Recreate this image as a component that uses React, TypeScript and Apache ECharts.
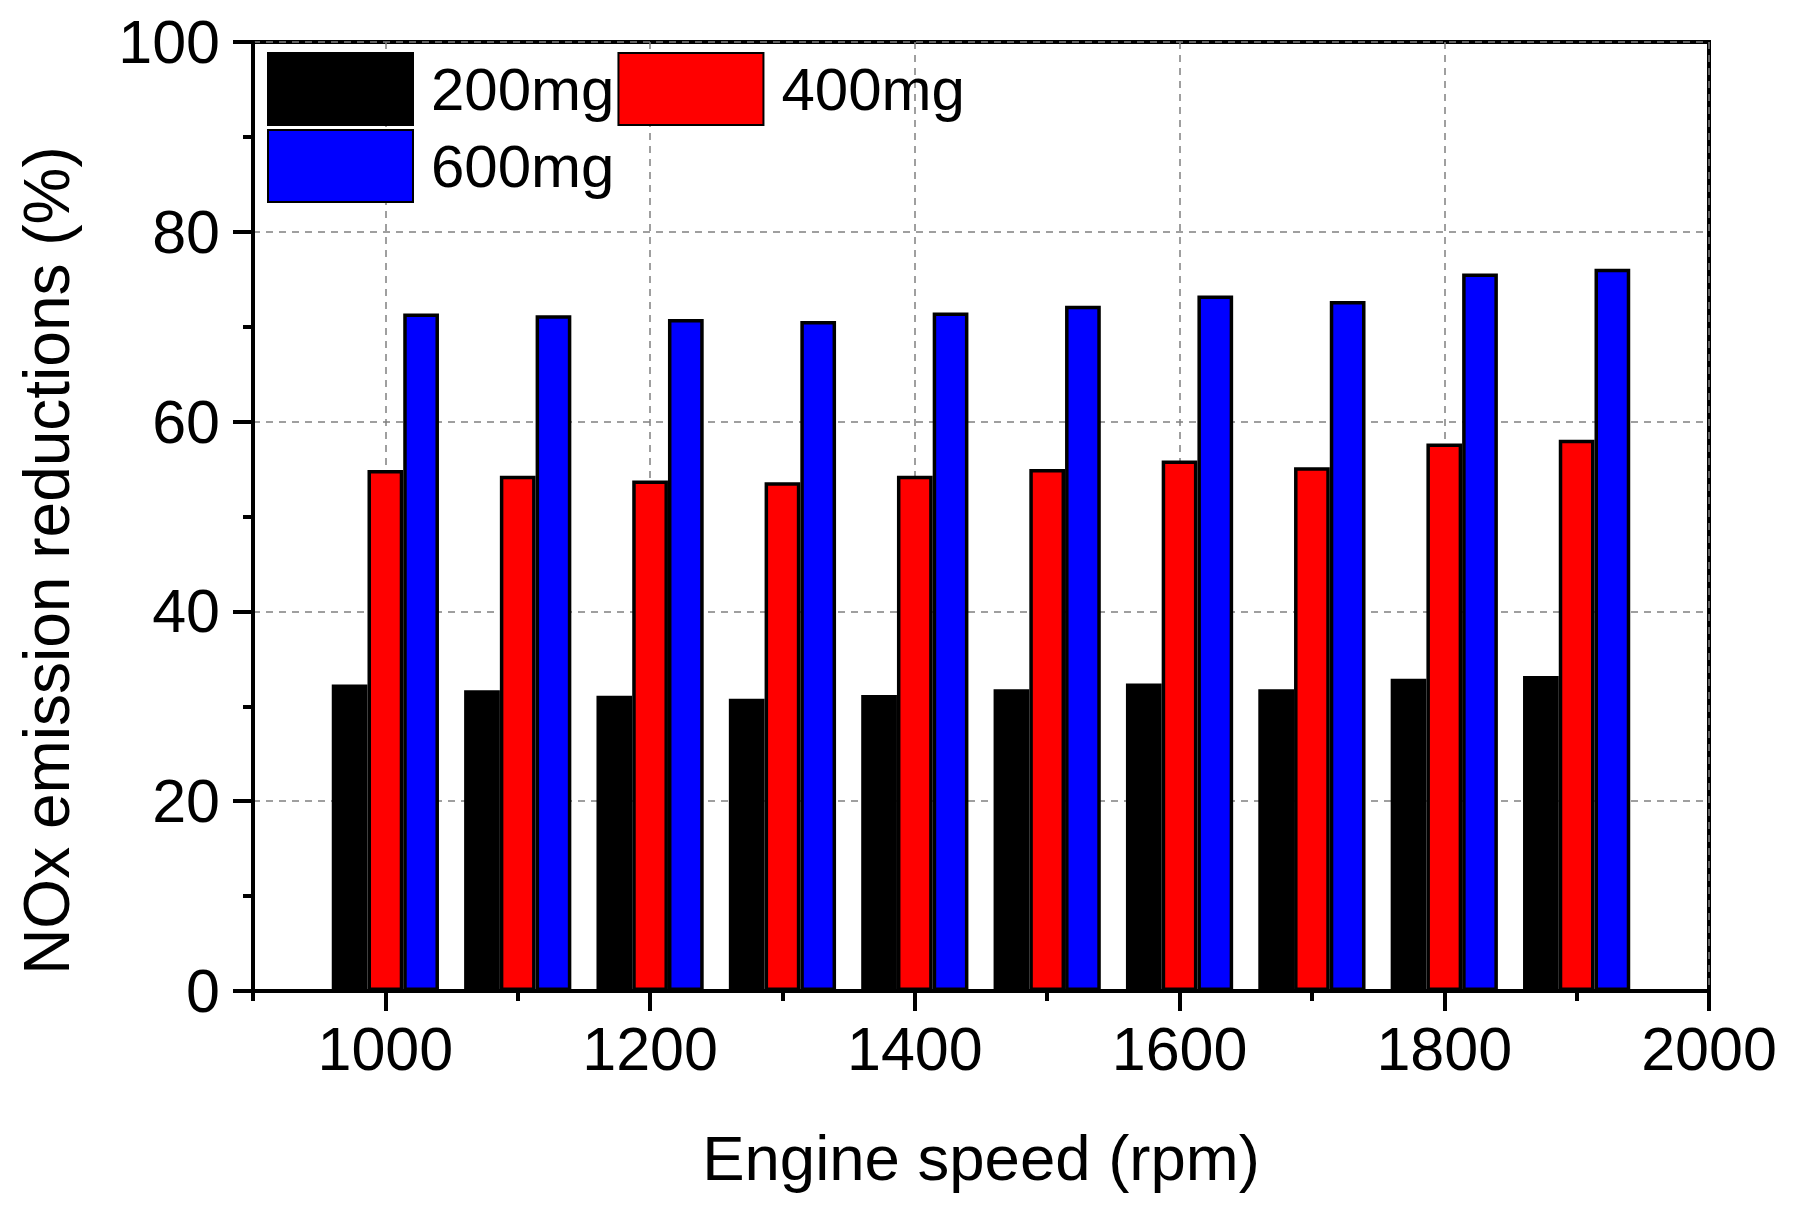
import { useRef, useEffect } from 'react'
import * as echarts from 'echarts'

const speeds = [1000, 1100, 1200, 1300, 1400, 1500, 1600, 1700, 1800, 1900]
const dose200 = [32.3, 31.7, 31.1, 30.8, 31.2, 31.8, 32.4, 31.8, 32.9, 33.2]
const dose400 = [54.9, 54.3, 53.8, 53.6, 54.3, 55.0, 55.9, 55.2, 57.7, 58.1]
const dose600 = [71.4, 71.2, 70.8, 70.6, 71.5, 72.2, 73.3, 72.7, 75.6, 76.1]
const seriesNames = ['200mg', '400mg', '600mg']
const seriesColors = ['#000000', '#ff0000', '#0000ff']
const xMajorTicks = [1000, 1200, 1400, 1600, 1800, 2000]

const FONT = '"Liberation Sans", Arial, sans-serif'

export default function App() {
  const chartRef = useRef<HTMLDivElement>(null)

  useEffect(() => {
    document.body.style.margin = '0'
    if (!chartRef.current) return
    const chart = echarts.init(chartRef.current, null, { renderer: 'svg' })

    const values = [dose200, dose400, dose600]
    const dashed = { show: true, lineStyle: { color: '#808080', width: 1.5, type: [7, 6] } }

    chart.setOption({
      animation: false,
      backgroundColor: '#ffffff',
      textStyle: { fontFamily: FONT, color: '#000' },
      grid: {
        left: 253,
        right: 88,
        top: 42,
        bottom: 225,
        show: true,
        borderColor: '#000',
        borderWidth: 4,
        backgroundColor: 'transparent',
      },
      legend: {
        left: 267,
        top: 52,
        width: 720,
        padding: 0,
        itemWidth: 145,
        itemHeight: 72,
        itemGap: 3,
        icon: 'rect',
        data: seriesNames,
        textStyle: { fontSize: 60, fontFamily: FONT, color: '#000', padding: [0, 0, 0, 13] },
      },
      xAxis: [
        {
          type: 'value',
          position: 'bottom',
          min: 900,
          max: 2000,
          interval: 100,
          name: 'Engine speed (rpm)',
          nameLocation: 'middle',
          nameGap: 135,
          nameMoveOverlap: false,
          nameTextStyle: { fontSize: 63.5, fontFamily: FONT, color: '#000' },
          axisLine: { show: true, onZero: false, lineStyle: { color: '#000', width: 4 } },
          axisTick: { show: true, customValues: xMajorTicks, length: 20, lineStyle: { color: '#000', width: 4 } },
          axisLabel: {
            customValues: xMajorTicks,
            formatter: (v: number) => String(v),
            fontSize: 61,
            margin: 27,
            color: '#000',
            fontFamily: FONT,
          },
          splitLine: dashed,
        },
        {
          type: 'value',
          position: 'bottom',
          min: 900,
          max: 2000,
          interval: 100,
          axisLine: { show: false, onZero: false },
          axisTick: { show: true, length: 10, lineStyle: { color: '#000', width: 4 } },
          axisLabel: { show: false },
          splitLine: { show: false },
        },
      ],
      yAxis: {
        type: 'value',
        min: 0,
        max: 100,
        interval: 20,
        name: 'NOx emission reductions (%)',
        nameLocation: 'middle',
        nameGap: 174,
        nameMoveOverlap: false,
        nameTextStyle: { fontSize: 64, fontFamily: FONT, color: '#000', padding: [0, 88, 0, 0] },
        axisLine: { show: true, lineStyle: { color: '#000', width: 4 } },
        axisTick: { show: true, length: 20, lineStyle: { color: '#000', width: 4 } },
        minorTick: { show: true, splitNumber: 2, length: 10, lineStyle: { color: '#000', width: 4 } },
        axisLabel: { fontSize: 61, margin: 33, color: '#000', fontFamily: FONT },
        splitLine: dashed,
      },
      series: seriesNames.map((name, i) => ({
        name,
        type: 'bar',
        xAxisIndex: 0,
        barWidth: '27%',
        barGap: '0%',
        data: speeds.map((s, j) => [s, values[i][j]]),
        itemStyle: { color: seriesColors[i], borderColor: '#000', borderWidth: 3.5 },
      })),
    })

    return () => {
      chart.dispose()
    }
  }, [])

  return <div ref={chartRef} style={{ width: 1797, height: 1216 }} />
}
